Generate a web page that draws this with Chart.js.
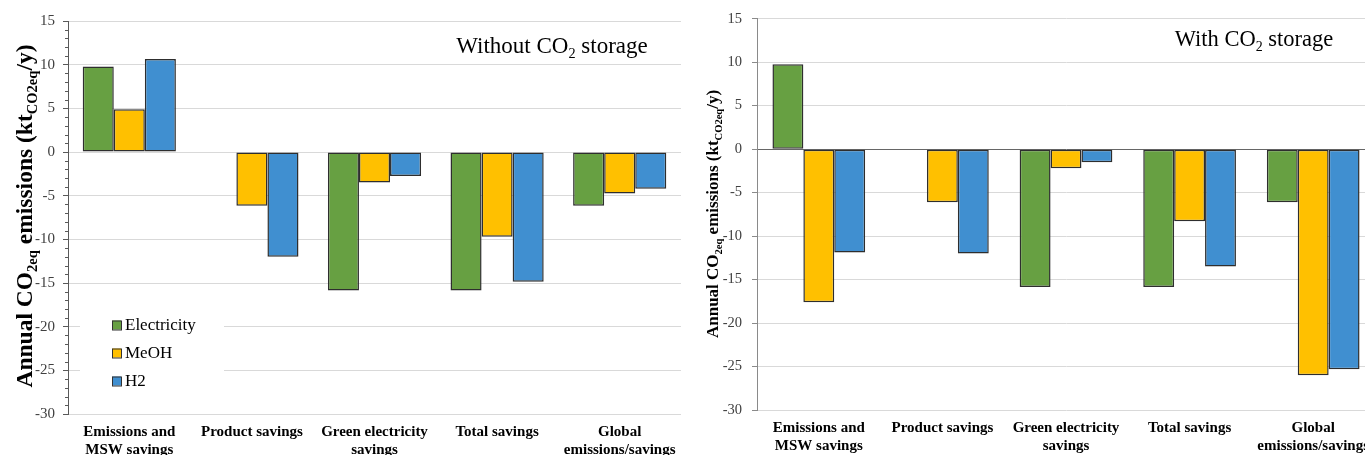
<!DOCTYPE html>
<html><head><meta charset="utf-8">
<script src="https://cdn.jsdelivr.net/npm/chart.js@4/dist/chart.umd.min.js"></script>
<style>
html,body{margin:0;padding:0;background:#fff;overflow:hidden;width:1365px;height:455px;position:relative;}
#c1{position:absolute;left:0;top:0;}
#c2{position:absolute;left:690px;top:0;}
</style></head><body>
<canvas id="c1" width="690" height="455"></canvas>
<canvas id="c2" width="730" height="455"></canvas>
<script>
// ---- data ----
const categories = [["Emissions and","MSW savings"],"Product savings",["Green electricity","savings"],"Total savings",["Global","emissions/savings"]];
const seriesNames = ["Electricity","MeOH","H2"];
const withoutElectricity = [9.8, 0, -15.85, -15.85, -6.15];
const withoutMeOH = [4.9, -6.15, -3.5, -9.7, -4.75];
const withoutH2 = [10.65, -12.0, -2.75, -14.85, -4.2];
const withElectricity = [9.75, 0, -15.85, -15.85, -6.1];
const withMeOH = [-17.6, -6.1, -2.2, -8.3, -26.0];
const withH2 = [-11.9, -12.0, -1.5, -13.5, -25.3];
const yMin = -30, yMax = 15, yStep = 5;
const colors = ["#67a042", "#ffc000", "#408fd0"];

const SERIF = "'Liberation Serif','Times New Roman',serif";

function drawRich(ctx, segs, x, y, size, weight, rotate) {
  ctx.save();
  ctx.translate(x, y);
  if (rotate) ctx.rotate(-Math.PI / 2);
  const f = s => `${weight} ${s.sub ? size * 0.62 : size}px ${SERIF}`;
  let total = 0;
  segs.forEach(s => { ctx.font = f(s); s.w = ctx.measureText(s.t).width; total += s.w; });
  let cx = -total / 2;
  ctx.textBaseline = 'alphabetic'; ctx.textAlign = 'left'; ctx.fillStyle = '#000';
  segs.forEach(s => { ctx.font = f(s); ctx.fillText(s.t, cx, size * 0.35 + (s.sub ? size * 0.22 : 0)); cx += s.w; });
  ctx.restore();
}

function makeDatasets(a, b, c, catPct) {
  return [a, b, c].map((d, i) => ({
    label: seriesNames[i], data: d, backgroundColor: colors[i],
    borderColor: '#2e2e2e', borderWidth: 1.5, borderSkipped: false,
    categoryPercentage: catPct, barPercentage: 1.0
  }));
}

function makeChart(id, cfg) {
  const decor = {
    id: 'decor',
    beforeDatasetsDraw(chart) {
      const ctx = chart.ctx, ys = chart.scales.y, area = chart.chartArea;
      if (cfg.minor) {
        ctx.save(); ctx.strokeStyle = cfg.axisColor; ctx.lineWidth = 1;
        for (let v = yMin; v <= yMax; v++) {
          if (v % yStep === 0) continue;
          const py = Math.round(ys.getPixelForValue(v)) + 0.5;
          ctx.beginPath(); ctx.moveTo(area.left - 3, py); ctx.lineTo(area.left, py); ctx.stroke();
        }
        ctx.restore();
      }
    },
    afterDatasetsDraw(chart) {
      const ctx = chart.ctx;
      drawRich(ctx, [{t:'Annual CO'},{t:'2eq',sub:true},{t:' emissions (kt'},{t:'CO2eq',sub:true},{t:'/y)'}],
        cfg.axX, cfg.axY, cfg.axSize, 'bold', true);
      drawRich(ctx, [{t:cfg.title1},{t:'2',sub:true},{t:' storage'}], cfg.tX, cfg.tY, cfg.tSize, 'normal', false);
      if (cfg.legend) {
        const L = cfg.legend;
        ctx.save();
        ctx.fillStyle = '#fff';
        ctx.fillRect(L.x0, L.y0, L.w, L.h);
        chart.data.datasets.forEach((ds, i) => {
          const cy = L.first + i * L.gap;
          ctx.fillStyle = ds.backgroundColor;
          ctx.fillRect(L.sx, cy - 4.5, 9, 9);
          ctx.strokeStyle = '#333'; ctx.lineWidth = 1;
          ctx.strokeRect(L.sx + 0.5, cy - 4.5 + 0.5, 9, 9);
          ctx.fillStyle = '#000'; ctx.font = `${L.size}px ${SERIF}`;
          ctx.textBaseline = 'middle'; ctx.textAlign = 'left';
          ctx.fillText(ds.label, L.sx + 13, cy + 1);
        });
        ctx.restore();
      }
    }
  };
  return new Chart(document.getElementById(id), {
    type: 'bar',
    data: { labels: categories, datasets: makeDatasets(...cfg.data, cfg.catPct) },
    options: {
      responsive: false, animation: false, devicePixelRatio: 1,
      layout: { padding: cfg.padding },
      plugins: { legend: { display: false }, tooltip: { enabled: false } },
      scales: {
        x: {
          grid: { display: false, drawTicks: false }, border: { display: false },
          ticks: { color: '#000', padding: cfg.xPad, maxRotation: 0, autoSkip: false,
            font: { family: SERIF, size: cfg.xSize, weight: 'bold', lineHeight: 1.2 } },
          afterFit(s) { s.height = cfg.xH; }
        },
        y: {
          min: yMin, max: yMax,
          grid: { color: c => (cfg.zeroDark && c.tick && c.tick.value === 0) ? '#666666' : '#d9d9d9',
                  tickColor: cfg.axisColor, tickLength: 5, lineWidth: 1 },
          border: { color: cfg.axisColor, width: 1 },
          ticks: { stepSize: yStep, color: '#404040', padding: cfg.yPad,
            font: { family: SERIF, size: cfg.ySize } },
          afterFit(s) { s.width = cfg.yW; }
        }
      }
    },
    plugins: [decor]
  });
}

makeChart('c1', {
  data: [withoutElectricity, withoutMeOH, withoutH2], catPct: 0.76,
  padding: { left: 0, right: 9, top: 21, bottom: 0 },
  yW: 68, xH: 41, xPad: 9, xSize: 15, ySize: 15, yPad: 8,
  axisColor: '#595959', minor: true, zeroDark: false,
  axX: 24, axY: 216, axSize: 23.5,
  title1: 'Without CO', tX: 552, tY: 45, tSize: 23,
  legend: { x0: 80, y0: 302, w: 144, h: 94, sx: 112, first: 325, gap: 28, size: 17 }
});

makeChart('c2', {
  data: [withElectricity, withMeOH, withH2], catPct: 0.75,
  padding: { left: 0, right: 45, top: 17, bottom: 0 },
  yW: 67, xH: 45, xPad: 9, xSize: 15, ySize: 14.5, yPad: 10,
  axisColor: '#8a8a8a', minor: false, zeroDark: true,
  axX: 22, axY: 214, axSize: 17,
  title1: 'With CO', tX: 1254 - 690, tY: 38, tSize: 22.5,
  legend: null
});
</script>
</body></html>
